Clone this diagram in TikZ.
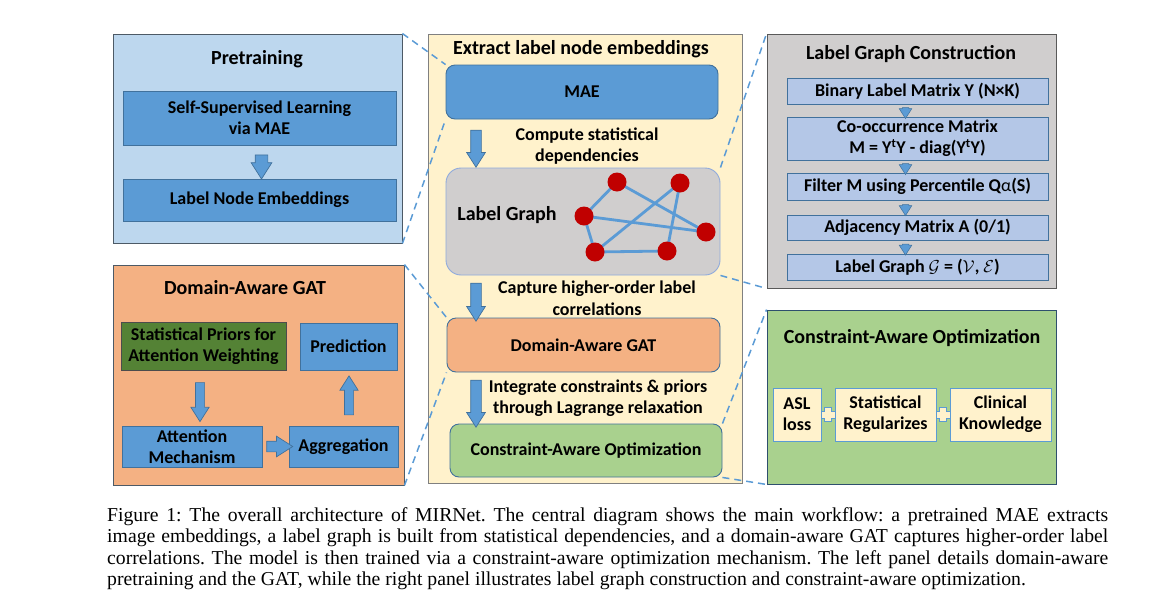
\documentclass[tikz,border=0pt]{standalone}
\usepackage{fontspec}
\setmainfont{Carlito}
\newfontfamily\capfont{Liberation Serif}
\usetikzlibrary{shapes.arrows,calc}
\definecolor{panelline}{HTML}{4D5A66}
\definecolor{ltblue}{HTML}{BDD7EE}
\definecolor{midblue}{HTML}{5B9BD5}
\definecolor{edgeblue}{HTML}{41719C}
\definecolor{paleyellow}{HTML}{FFF2CC}
\definecolor{lgray}{HTML}{D0CECE}
\definecolor{peach}{HTML}{F4B183}
\definecolor{lgreen}{HTML}{A9D18E}
\definecolor{dgreen}{HTML}{548235}
\definecolor{pblue}{HTML}{B4C7E7}
\definecolor{nodered}{HTML}{C00000}
\definecolor{softblue}{HTML}{8FAADC}
\tikzset{
  panel/.style={draw=panelline, line width=0.9pt, inner sep=0pt, rectangle},
  bx/.style={draw=edgeblue, line width=0.9pt, inner sep=0pt, rectangle, align=center,
     font=\bfseries\fontsize{18}{21}\selectfont},
  rbx/.style={bx, rounded corners=9pt},
  ttl/.style={inner sep=0pt, align=center, font=\bfseries\fontsize{20}{23}\selectfont},
  lbl/.style={inner sep=0pt, align=center, font=\bfseries\fontsize{18}{21.5}\selectfont},
  barrow/.style={single arrow, draw=edgeblue, fill=midblue, line width=0.7pt, inner sep=0pt,
     single arrow tip angle=65},
  zoomline/.style={draw=midblue, line width=1.5pt, dash pattern=on 7pt off 5pt},
  gedge/.style={draw=midblue, line width=2.8pt},
  gnode/.style={circle, fill=nodered, inner sep=0pt, minimum size=19pt},
  plusst/.style={draw=midblue, fill=paleyellow, line width=0.8pt},
  capline/.style={inner sep=0pt, anchor=base west, font=\capfont\fontsize{19.7}{21.5}\selectfont\frenchspacing}
}
\begin{document}
\begin{tikzpicture}[x=1pt,y=-1pt]
\useasboundingbox (0,0) rectangle (1170,611);

% ---------- Pretraining panel ----------
\node[panel, fill=ltblue, minimum width=289pt, minimum height=209pt] (P1) at (257.5,138.5) {};
\node[ttl] (P1t) at (257,59) {Pretraining};
\node[bx, fill=midblue, minimum width=273pt, minimum height=54pt] (PA) at (259.5,118) {Self-Supervised Learning\\via MAE};
\node[bx, fill=midblue, minimum width=273pt, minimum height=42pt] (PB) at (259.5,200) {Label Node Embeddings};
\node[barrow, rotate=-90, minimum height=24pt, single arrow head extend=4pt] (PAr) at ($(PA.south)!0.5!(PB.north)+(2,0)$) {\rule{0pt}{12pt}};

% ---------- Center panel ----------
\node[panel, draw=gray, fill=paleyellow, minimum width=314pt, minimum height=449pt] (C) at (585,258.5) {};
\node[ttl] (Ct) at (581,49) {Extract label node embeddings};
\node[rbx, fill=midblue, minimum width=272pt, minimum height=54pt] (MAE) at (582,92) {MAE};
\node[rbx, draw=softblue, fill=lgray, minimum width=274pt, minimum height=107pt, rounded corners=15pt] (LG) at (583,221.5) {};
\node[lbl, font=\bfseries\fontsize{20}{23}\selectfont] (LGt) at (507,215) {Label Graph};
\node[rbx, fill=peach, minimum width=273pt, minimum height=54pt] (GAT) at (583.5,345) {Domain-Aware GAT};
\node[rbx, fill=lgreen, minimum width=272pt, minimum height=53pt] (CAO) at (586,450.5) {Constraint-Aware Optimization};

\node[barrow, rotate=-90, minimum height=37pt, single arrow head extend=4pt] (Ca1) at (476,144.5) {\rule{0pt}{10pt}};
\node[lbl] (Cl1) at (587,146) {Compute statistical\\dependencies};
\node[barrow, rotate=-90, minimum height=38pt, single arrow head extend=4pt] (Ca2) at (476,298) {\rule{0pt}{10pt}};
\node[lbl] (Cl2) at (597,298) {Capture higher-order label\\correlations};
\node[barrow, rotate=-90, minimum height=47pt, single arrow head extend=4pt] (Ca3) at (476,399.5) {\rule{0pt}{10pt}};
\node[lbl] (Cl3) at (598,398) {Integrate constraints \& priors\\through Lagrange relaxation};

% label graph
\coordinate (g1) at (617,182);
\coordinate (g2) at (680,183);
\coordinate (g3) at (584,216);
\coordinate (g4) at (706,232);
\coordinate (g5) at (595,252);
\coordinate (g6) at (667,251);
\draw[gedge] (g1) -- (g3);
\draw[gedge] (g1) -- (g4);
\draw[gedge] (g3) -- (g4);
\draw[gedge] (g3) -- (g5);
\draw[gedge] (g2) -- (g5);
\draw[gedge] (g2) -- (g6);
\draw[gedge] (g5) -- (g6);
\foreach \n in {g1,g2,g3,g4,g5,g6}
  \node[gnode] at (\n) {};

% ---------- Label Graph Construction ----------
\node[panel, draw=gray!70!black, fill=lgray, minimum width=289pt, minimum height=254pt] (R1) at (911.5,161) {};
\node[ttl] (R1t) at (911,54) {Label Graph Construction};
\node[bx, fill=pblue, minimum width=261pt, minimum height=26pt] (b1) at (917.5,91) {Binary Label Matrix Y (N×K)};
\node[bx, fill=pblue, minimum width=261pt, minimum height=43pt] (b2) at (917.5,138.5) {Co-occurrence Matrix\\M = Y\textsuperscript{t}Y - diag(Y\textsuperscript{t}Y)};
\node[bx, fill=pblue, minimum width=261pt, minimum height=27pt] (b3) at (917.5,186.5) {Filter M using Percentile Q{\mdseries α}(S)};
\node[bx, fill=pblue, minimum width=261pt, minimum height=25pt] (b4) at (917.5,227.5) {Adjacency Matrix A (0/1)};
\node[bx, fill=pblue, minimum width=261pt, minimum height=26pt] (b5) at (917.5,267) {Label Graph $\mathcal{G}$ = ($\mathcal{V}$, $\mathcal{E}$)};
\foreach \a/\b in {b1/b2,b2/b3,b3/b4,b4/b5}
  \node[barrow, rotate=-90, minimum height=11pt, single arrow head extend=3pt, line width=0.5pt] at ($(\a.south)!0.5!(\b.north)+(-12,0)$) {\rule{0pt}{6pt}};

% ---------- Domain-Aware GAT panel ----------
\node[panel, fill=peach, minimum width=291pt, minimum height=220pt] (L2) at (258.5,375) {};
\node[ttl] (L2t) at (245,288) {Domain-Aware GAT};
\node[bx, draw=gray!60!black, fill=dgreen, minimum width=165pt, minimum height=48pt] (SP) at (203.5,346) {Statistical Priors for\\Attention Weighting};
\node[bx, fill=midblue, minimum width=97pt, minimum height=47pt] (PR) at (348.5,346.5) {Prediction};
\node[bx, fill=midblue, minimum width=140pt, minimum height=41pt] (AT) at (192,446.5) {Attention\\Mechanism};
\node[bx, fill=midblue, minimum width=109pt, minimum height=41pt] (AG) at (343.5,446.5) {Aggregation};
\node[barrow, rotate=-90, minimum height=39pt, single arrow head extend=4.5pt] (La1) at (200,398.5) {\rule{0pt}{8.5pt}};
\node[barrow, minimum height=26pt, single arrow head extend=5pt] (La2) at ($(AT.east)!0.5!(AG.west)$) {\rule{0pt}{10pt}};
\node[barrow, rotate=90, minimum height=39pt, single arrow head extend=4.5pt] (La3) at (349,399) {\rule{0pt}{8.5pt}};

% ---------- Constraint-Aware Optimization panel ----------
\node[panel, draw=edgeblue!70!black, fill=lgreen, minimum width=289pt, minimum height=174pt] (R2) at (911.5,397) {};
\node[ttl] (R2t) at (912,338) {Constraint-Aware Optimization};
\node[bx, draw=midblue, fill=paleyellow, minimum width=48pt, minimum height=53pt] (ASL) at (797,414.5) {ASL\\loss};
\node[bx, draw=midblue, fill=paleyellow, minimum width=101pt, minimum height=53pt] (ST) at (885.5,414.5) {Statistical\\Regularizes};
\node[bx, draw=midblue, fill=paleyellow, minimum width=101pt, minimum height=53pt] (CK) at (1000.5,414.5) {Clinical\\Knowledge};
\coordinate (pl1) at ($(ASL.east)!0.5!(ST.west)$);
\coordinate (pl2) at ($(ST.east)!0.5!(CK.west)$);
\foreach \c in {pl1,pl2}
  \draw[plusst, shift={(\c)}] (-7,-3.5) -- (-3.5,-3.5) -- (-3.5,-7) -- (3.5,-7) -- (3.5,-3.5) -- (7,-3.5) -- (7,3.5) -- (3.5,3.5) -- (3.5,7) -- (-3.5,7) -- (-3.5,3.5) -- (-7,3.5) -- cycle;

% ---------- zoom lines ----------
\draw[zoomline] (P1.north east) -- (MAE.north west);
\draw[zoomline] (P1.south east) -- (MAE.south west);
\draw[zoomline] (L2.north east) -- (GAT.north west);
\draw[zoomline] (L2.south east) -- (GAT.south west);
\draw[zoomline] (LG.north east) -- (R1.north west);
\draw[zoomline] (LG.south east) -- (R1.south west);
\draw[zoomline] (CAO.north east) -- (R2.north west);
\draw[zoomline] (CAO.south east) -- (R2.south west);

% ---------- caption ----------
\node[capline] (cap1) at (107,521) {\makebox[1001pt][s]{Figure 1: The overall architecture of MIRNet. The central diagram shows the main workflow: a pretrained MAE extracts}};
\node[capline] (cap2) at (107,542.5) {\makebox[1001pt][s]{image embeddings, a label graph is built from statistical dependencies, and a domain-aware GAT captures higher-order label}};
\node[capline] (cap3) at (107,564) {\makebox[1001pt][s]{correlations. The model is then trained via a constraint-aware optimization mechanism. The left panel details domain-aware}};
\node[capline] (cap4) at (107,585.5) {pretraining and the GAT, while the right panel illustrates label graph construction and constraint-aware optimization.};
\end{tikzpicture}
\end{document}
